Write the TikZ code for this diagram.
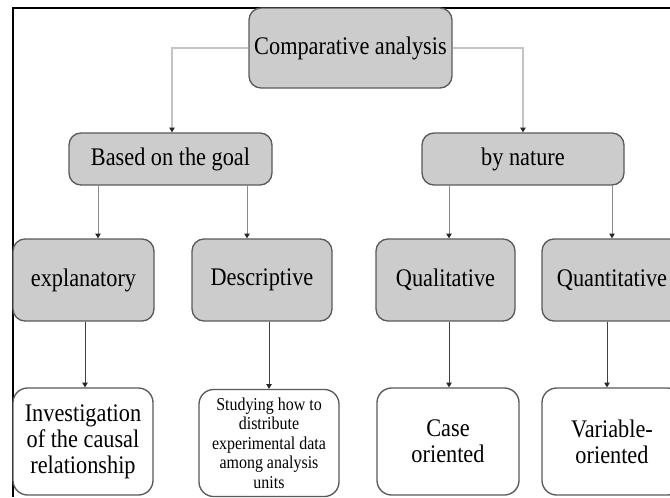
\documentclass[tikz,border=0pt]{standalone}
\usepackage{fontspec}
\setmainfont{Liberation Serif}[FakeStretch=0.88]
\usetikzlibrary{arrows.meta,calc}
\definecolor{boxfill}{HTML}{CCCCCC}
\definecolor{boxline}{HTML}{595959}
\definecolor{linelight}{HTML}{C4C4C4}
\definecolor{linemid}{HTML}{8A8A8A}
\definecolor{linedark}{HTML}{404040}
\begin{document}
\begin{tikzpicture}[x=0.75pt,y=-0.75pt,
  box/.style={draw=boxline, line width=1pt, rounded corners=9pt, align=center,
    inner sep=2pt, font=\fontsize{19}{19.5}\selectfont},
  gbox/.style={box, fill=boxfill},
  wbox/.style={box, fill=white, rounded corners=11pt},
  tip/.style={-{Triangle[length=3.5pt,width=4pt,color=black!85]}},
  toparrow/.style={tip, draw=linelight, line width=0.8pt},
  midarrow/.style={tip, draw=linemid, line width=0.7pt},
  lowarrow/.style={tip, draw=linedark, line width=0.7pt}
]
\clip (0,0) rectangle (670,497);
% outer frame (only left and top edges visible)
\draw[black, line width=1pt] (13,497) -- (13,8) -- (680,8);

% nodes
\node[gbox, minimum width=152.25pt, minimum height=60pt] (comp) at (350.5,48) {Comparative analysis};
\node[gbox, minimum width=152.25pt, minimum height=39pt] (goal) at (170.5,159) {Based on the goal};
\node[gbox, minimum width=151.5pt, minimum height=39pt] (nature) at (523,159) {by nature};

\node[gbox, minimum width=105.75pt, minimum height=61.5pt] (expl) at (83.5,280) {explanatory};
\node[gbox, minimum width=105pt, minimum height=61.5pt] (desc) at (262,280) {Descriptive};
\node[gbox, minimum width=104.25pt, minimum height=61.5pt] (qual) at (445.5,280) {Qualitative};
\node[gbox, minimum width=105pt, minimum height=61.5pt] (quan) at (612,280) {Quantitative};

\node[wbox, minimum width=105pt, minimum height=80.25pt] (inv) at (83,441.5) {Investigation\\of the causal\\relationship};
\node[wbox, minimum width=105pt, minimum height=80.25pt, font=\fontsize{13.6}{14.6}\selectfont] (stud) at (269,443) {Studying how to\\distribute\\experimental data\\among analysis\\units};
\node[wbox, minimum width=106.5pt, minimum height=80.25pt] (case) at (448,441.5) {Case\\oriented};
\node[wbox, minimum width=105pt, minimum height=80.25pt] (var) at (612,441.5) {Variable-\\oriented};

% connectors
\draw[toparrow] (comp.west) -| (goal.north -| 172,0);
\draw[toparrow] (comp.east) -| (nature.north -| 523,0);

\draw[midarrow] (goal.south -| 98,0) -- (expl.north -| 98,0);
\draw[midarrow] (goal.south -| 247,0) -- (desc.north -| 247,0);
\draw[midarrow] (nature.south -| 449,0) -- (qual.north -| 449,0);
\draw[midarrow] (nature.south -| 612,0) -- (quan.north -| 612,0);

\draw[lowarrow] (expl.south -| 85,0) -- (inv.north -| 85,0);
\draw[lowarrow] (desc.south -| 269,0) -- (stud.north -| 269,0);
\draw[lowarrow] (qual.south -| 449,0) -- (case.north -| 449,0);
\draw[lowarrow] (quan.south -| 607,0) -- (var.north -| 607,0);
\end{tikzpicture}
\end{document}
